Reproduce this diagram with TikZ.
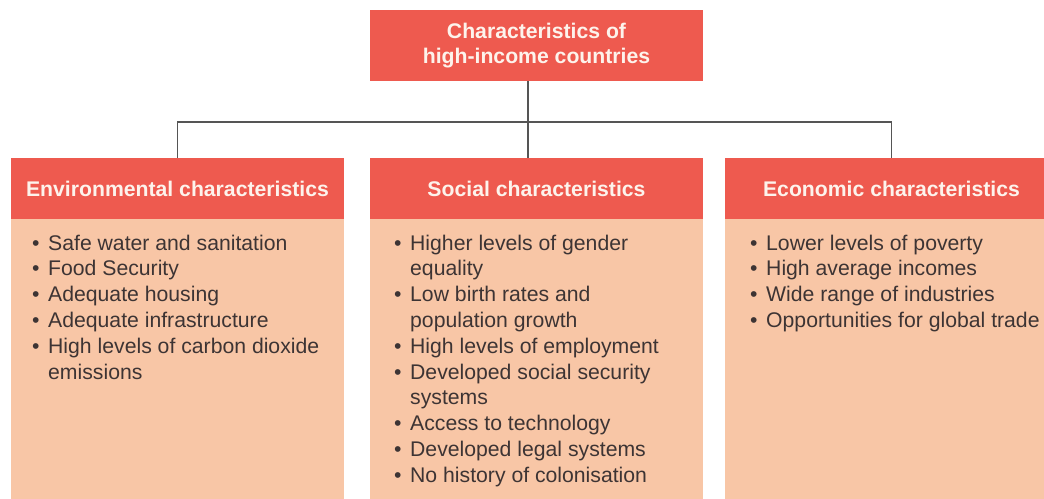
\documentclass[tikz,border=0pt]{standalone}
\usepackage{fontspec}
\setmainfont{Liberation Sans}
\definecolor{hdrred}{HTML}{EE5A4F}
\definecolor{bodypeach}{HTML}{F8C6A6}
\definecolor{bodytext}{HTML}{3D3434}
\definecolor{hdrtext}{HTML}{FDF3EC}
\definecolor{linegrey}{HTML}{555555}
\newcommand{\bul}{\makebox[15pt][l]{\hspace{-1pt}•}}
\begin{document}
\begin{tikzpicture}[x=1pt,y=-1pt,
  hdr/.style={rectangle, fill=hdrred, draw=none, minimum width=333pt, inner sep=0pt,
    text=hdrtext, font=\fontsize{21.2}{25.8}\selectfont\bfseries, align=center},
  body/.style={rectangle, fill=bodypeach, draw=none, minimum width=333pt, minimum height=300pt,
    inner sep=0pt, anchor=north},
  items/.style={anchor=base west, inner sep=0pt, text=bodytext,
    font=\fontsize{21.2}{25.8}\selectfont},
  conn/.style={draw=linegrey, line width=1.3pt}]
\useasboundingbox (0,0) rectangle (1044,498);
\clip (0,0) rectangle (1044,498);
\fill[white] (0,0) rectangle (1044,498);

\node[hdr, minimum height=71pt] (top) at (536.5,45.5) {Characteristics of\\high-income countries};

\node[hdr, minimum height=61pt] (hL) at (177.5,188.5) {Environmental characteristics};
\node[hdr, minimum height=61pt] (hM) at (536.5,188.5) {Social characteristics};
\node[hdr, minimum height=61pt] (hR) at (891.5,188.5) {Economic characteristics};

\node[body] (bL) at (hL.south) {};
\node[body] (bM) at (hM.south) {};
\node[body] (bR) at (hR.south) {};

\coordinate (bus) at (528,122);
\draw[conn] (bus |- top.south) -- (bus);
\draw[conn] (hL.north) -- (hL.north |- bus) -- (hR.north |- bus) -- (hR.north);
\draw[conn] (bus) -- (bus |- hM.north);

\node[items] (tL) at (33,250) {\begin{tabular}[t]{@{}l@{}l@{}}
\bul & Safe water and sanitation\\
\bul & Food Security\\
\bul & Adequate housing\\
\bul & Adequate infrastructure\\
\bul & High levels of carbon dioxide\\
 & emissions
\end{tabular}};

\node[items] (tM) at (395,250) {\begin{tabular}[t]{@{}l@{}l@{}}
\bul & Higher levels of gender\\
 & equality\\
\bul & Low birth rates and\\
 & population growth\\
\bul & High levels of employment\\
\bul & Developed social security\\
 & systems\\
\bul & Access to technology\\
\bul & Developed legal systems\\
\bul & No history of colonisation
\end{tabular}};

\node[items] (tR) at (751,250) {\begin{tabular}[t]{@{}l@{}l@{}}
\bul & Lower levels of poverty\\
\bul & High average incomes\\
\bul & Wide range of industries\\
\bul & Opportunities for global trade
\end{tabular}};
\end{tikzpicture}
\end{document}
